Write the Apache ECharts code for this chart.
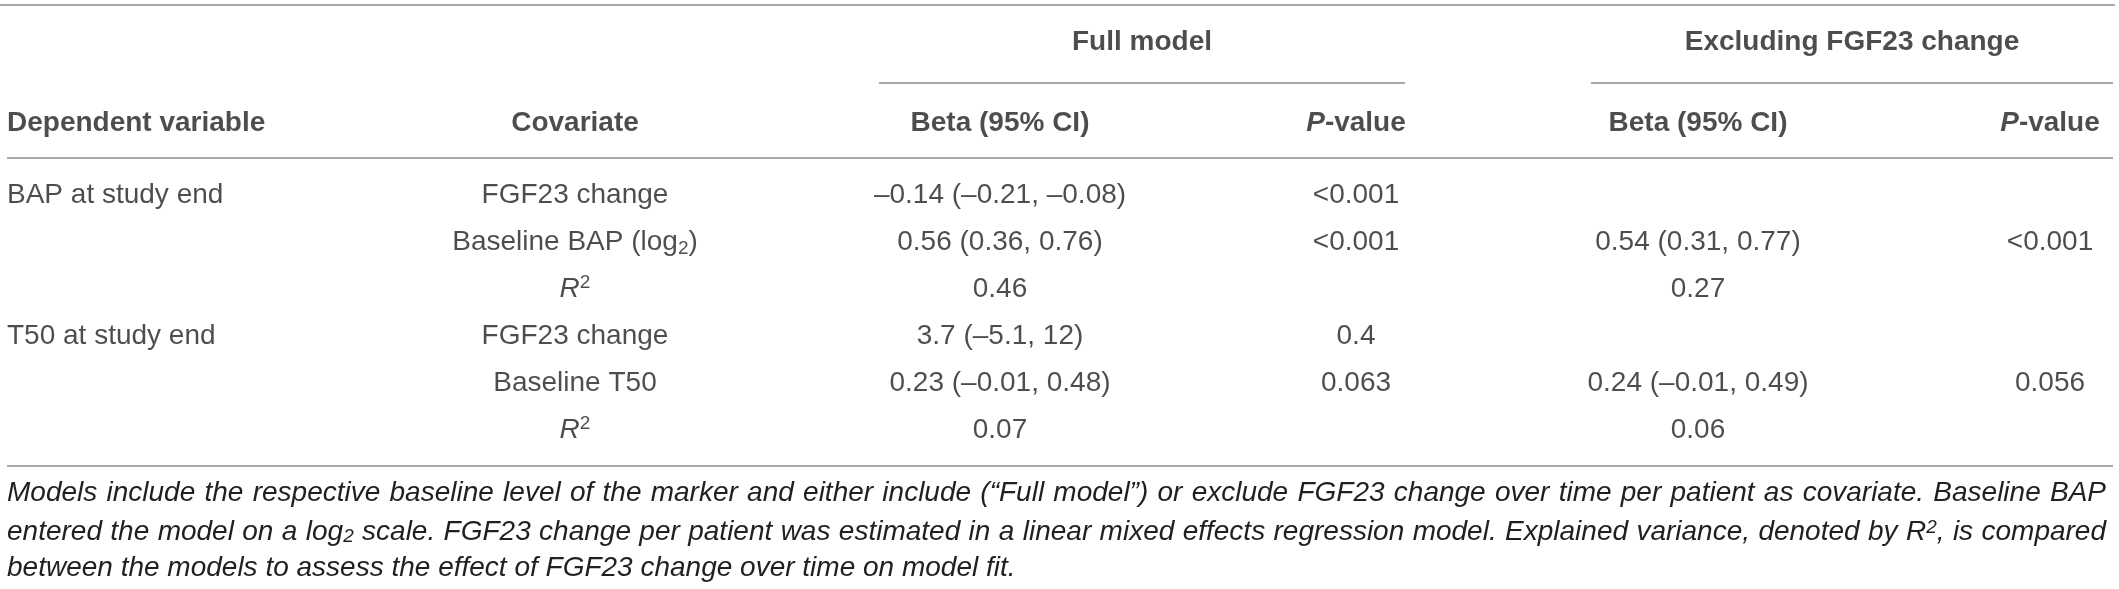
<!DOCTYPE html>
<html>
<head>
<meta charset="utf-8">
<script src="https://cdn.jsdelivr.net/npm/echarts@6/dist/echarts.min.js"></script>
<style>
html, body { margin: 0; padding: 0; background: #fff; }
#main { width: 2119px; height: 589px; }
</style>
</head>
<body>
<div id="main"></div>
<script>
// table content
var groupHeaders = ['Full model', 'Excluding FGF23 change'];
var colHeaders = ['Dependent variable', 'Covariate', 'Beta (95% CI)', '{bi|P}-value', 'Beta (95% CI)', '{bi|P}-value'];
var dependent = ['BAP at study end', '', '', 'T50 at study end', '', ''];
var covariates = ['FGF23 change', 'Baseline BAP (log{sub|2})', '{i|R}{sup|2}', 'FGF23 change', 'Baseline T50', '{i|R}{sup|2}'];
var fullBeta = ['\u20130.14 (\u20130.21, \u20130.08)', '0.56 (0.36, 0.76)', '0.46', '3.7 (\u20135.1, 12)', '0.23 (\u20130.01, 0.48)', '0.07'];
var fullP = ['<0.001', '<0.001', '', '0.4', '0.063', ''];
var exclBeta = ['', '0.54 (0.31, 0.77)', '0.27', '', '0.24 (\u20130.01, 0.49)', '0.06'];
var exclP = ['', '<0.001', '', '', '0.056', ''];
var footnote = [
    'Models include the respective baseline level of the marker and either include (\u201cFull model\u201d) or exclude FGF23 change over time per patient as covariate. Baseline BAP',
    'entered the model on a log{fsub|2} scale. FGF23 change per patient was estimated in a linear mixed effects regression model. Explained variance, denoted by R{fsup|2}, is compared',
    'between the models to assess the effect of FGF23 change over time on model fit.'
];
var justified = [true, true, false];

// layout (pixels)
var W = 2119, H = 589;
var colX = [7, 575, 1000, 1356, 1698, 2050];
var groupX = [1142, 1852];
var groupY = 42, headerY = 123, firstRowY = 195, rowStep = 47;
var noteY = [493, 532, 568];
var noteLeft = 7, noteRight = 2106;
var textColor = '#231f20';
var ruleColor = '#8a8a8a';
var noteFont = 'italic 28px "Liberation Sans"';
var noteSmallFont = 'italic 19px "Liberation Sans"';

var rich = {
    i: { fontStyle: 'italic', fontSize: 28, lineHeight: 32, color: textColor, fontFamily: 'Liberation Sans' },
    bi: { fontStyle: 'italic', fontWeight: 'bold', fontSize: 28, lineHeight: 32, color: textColor, fontFamily: 'Liberation Sans' },
    sup: { fontSize: 19, lineHeight: 12, verticalAlign: 'top', color: textColor, fontFamily: 'Liberation Sans' },
    sub: { fontSize: 19, lineHeight: 14, verticalAlign: 'bottom', color: textColor, fontFamily: 'Liberation Sans' }
};
var noteRich = {
    fsub: { fontSize: 19, fontStyle: 'italic', lineHeight: 12, verticalAlign: 'bottom', fill: textColor, fontFamily: 'Liberation Sans' },
    fsup: { fontSize: 19, fontStyle: 'italic', lineHeight: 10, verticalAlign: 'top', fill: textColor, fontFamily: 'Liberation Sans' }
};

function cellSeries(name, values, x, align, bold, y0) {
    var data = [];
    for (var k = 0; k < values.length; k++) {
        if (values[k] === '') continue;
        data.push([x, y0 === undefined ? firstRowY + k * rowStep : y0, values[k]]);
    }
    return {
        name: name,
        type: 'scatter',
        symbolSize: 0,
        silent: true,
        data: data,
        label: {
            show: true,
            position: 'inside',
            align: align,
            verticalAlign: 'middle',
            color: textColor,
            fontFamily: 'Liberation Sans',
            fontSize: 28,
            lineHeight: 32,
            fontWeight: bold ? 'bold' : 'normal',
            formatter: function (p) { return p.value[2]; },
            rich: rich
        }
    };
}

var series = [
    cellSeries('dependent', dependent, colX[0], 'left', false),
    cellSeries('covariate', covariates, colX[1], 'center', false),
    cellSeries('fullBeta', fullBeta, colX[2], 'center', false),
    cellSeries('fullP', fullP, colX[3], 'center', false),
    cellSeries('exclBeta', exclBeta, colX[4], 'center', false),
    cellSeries('exclP', exclP, colX[5], 'center', false)
];
for (var c = 0; c < colHeaders.length; c++) {
    series.push(cellSeries('header' + c, [colHeaders[c]], colX[c], c === 0 ? 'left' : 'center', true, headerY));
}
for (var g = 0; g < groupHeaders.length; g++) {
    series.push(cellSeries('group' + g, [groupHeaders[g]], groupX[g], 'center', true, groupY));
}

function rule(x1, x2, y) {
    return {
        type: 'line',
        silent: true,
        shape: { x1: x1, y1: y, x2: x2, y2: y },
        style: { stroke: ruleColor, lineWidth: 1.5 }
    };
}

var graphics = [
    rule(0, 2115, 5),
    rule(879, 1405, 83),
    rule(1591, 2113, 83),
    rule(7, 2113, 158),
    rule(7, 2113, 466)
];

// measure a word that may hold {fsub|..}/{fsup|..} pieces
var ctx = document.createElement('canvas').getContext('2d');
function wordWidth(word) {
    var w = 0, re = /\{(\w+)\|([^}]*)\}/g, last = 0, m;
    while ((m = re.exec(word)) !== null) {
        ctx.font = noteFont;
        w += ctx.measureText(word.slice(last, m.index)).width;
        ctx.font = noteSmallFont;
        w += ctx.measureText(m[2]).width;
        last = re.lastIndex;
    }
    ctx.font = noteFont;
    w += ctx.measureText(word.slice(last)).width;
    return w;
}

for (var n = 0; n < footnote.length; n++) {
    var words = footnote[n].split(' ');
    var widths = words.map(wordWidth);
    var total = widths.reduce(function (a, b) { return a + b; }, 0);
    ctx.font = noteFont;
    var gap = ctx.measureText(' ').width;
    if (justified[n]) {
        gap = (noteRight - noteLeft - total) / (words.length - 1);
    }
    var x = noteLeft;
    for (var j = 0; j < words.length; j++) {
        graphics.push({
            type: 'text',
            silent: true,
            x: x,
            y: noteY[n],
            style: {
                text: words[j],
                fill: textColor,
                font: noteFont,
                verticalAlign: 'middle',
                align: 'left',
                rich: noteRich
            }
        });
        x += widths[j] + gap;
    }
}

var myChart = echarts.init(document.getElementById('main'));
var option = {
    animation: false,
    backgroundColor: '#fff',
    grid: { left: 0, right: 0, top: 0, bottom: 0 },
    xAxis: { type: 'value', min: 0, max: W, show: false },
    yAxis: { type: 'value', min: 0, max: H, inverse: true, show: false },
    series: series,
    graphic: graphics
};
myChart.setOption(option);
</script>
</body>
</html>
